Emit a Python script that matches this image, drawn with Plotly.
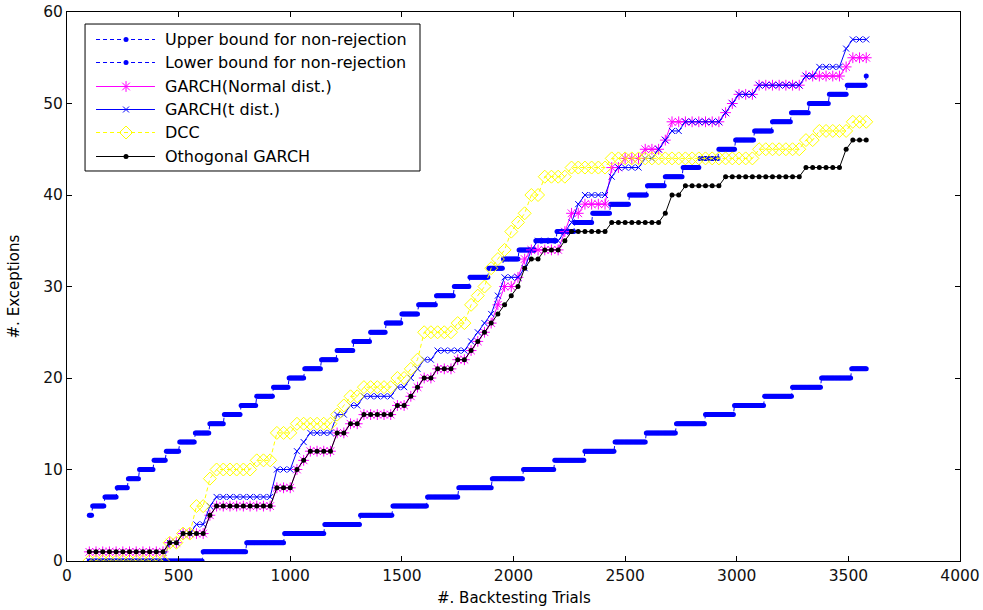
import numpy as np
import plotly.graph_objects as go

# Backtesting grid for the model series: one observation every 30 trials
trials = list(range(100, 3581, 30))

# Cumulative exception counts per model, one value per trial in `trials`
garch_normal = ([1] * 12 + [2] * 2 + [3] * 4 + [5] + [6] * 9 + [8] * 3 + [10] + [11] + [12] * 4
                + [14] * 2 + [15] * 2 + [16] * 5 + [17] * 2 + [18] + [19] + [20] * 2 + [21] * 3
                + [22] * 2 + [23, 24, 25, 26] + [28, 30, 30, 31, 33] + [34] * 5 + [36] + [38] * 2
                + [39] * 4 + [43] * 2 + [44] * 3 + [45] * 3 + [46] + [48] * 8 + [49, 50] + [51] * 3
                + [52] * 7 + [53] * 6 + [54] + [55] * 3)

garch_t = ([0] * 12 + [2] * 2 + [3] * 2 + [4] * 2 + [6] + [7] * 9 + [10] * 3 + [12, 13] + [14] * 4
           + [16] * 2 + [17] * 2 + [18] * 5 + [19] * 2 + [20, 21] + [22] * 2 + [23] * 5
           + [24, 25, 26, 27, 29] + [31] * 3 + [32, 34] + [35] * 4 + [36, 37, 39] + [40] * 4 + [42]
           + [43] * 4 + [44] * 2 + [45, 46] + [47] * 2 + [48] * 6 + [49, 50] + [51] * 3 + [52] * 7
           + [53] * 2 + [54] * 4 + [56] + [57] * 3)

dcc = ([0] * 12 + [2] * 2 + [3] * 2 + [6] * 2 + [9] + [10] * 6 + [11] * 3 + [14] * 3 + [15] * 6
       + [16, 17] + [18] * 2 + [19] * 5 + [20] * 2 + [21, 22] + [25] * 5 + [26] * 2
       + [28, 29, 30, 32, 33, 34, 36, 37, 38] + [40] * 2 + [42] * 4 + [43] * 6 + [44] * 22
       + [45] * 7 + [46] * 2 + [47] * 5 + [48] * 3)

ogarch = ([1] * 12 + [2] * 2 + [3] * 4 + [5] + [6] * 9 + [8] * 3 + [10] + [11] + [12] * 4
          + [14] * 2 + [15] * 2 + [16] * 5 + [17] * 2 + [18] + [19] + [20] * 2 + [21] * 3
          + [22] * 2 + [23, 24, 25, 26, 27, 28, 29, 30, 32] + [33] * 2 + [34] * 3 + [35]
          + [36] * 6 + [37] * 8 + [38] + [40] * 2 + [41] * 6 + [42] * 12 + [43] * 6 + [45]
          + [46] * 3)

# Non-rejection region: bounds are evaluated on every 5th trial.
bound_trials = np.arange(100, 3581, 5)
upper_start = 5
upper_jumps = [115, 168, 222, 275, 325, 390, 445, 505, 572, 638, 705, 778, 850, 921, 995,
               1062, 1137, 1208, 1283, 1357, 1429, 1500, 1574, 1653, 1731, 1802, 1888,
               1955, 2025, 2100, 2195, 2274, 2352, 2434, 2520, 2600, 2678, 2760, 2835,
               2916, 2995, 3077, 3160, 3242, 3325, 3412, 3492, 3578]
lower_start = 0
lower_jumps = [610, 801, 971, 1153, 1312, 1460, 1612, 1752, 1903, 2045, 2184, 2320, 2455,
               2595, 2728, 2856, 2988, 3121, 3250, 3380, 3513]

upper_bound = upper_start + np.searchsorted(upper_jumps, bound_trials, side="right")
lower_bound = lower_start + np.searchsorted(lower_jumps, bound_trials, side="right")

names = ["Upper bound for non-rejection", "Lower bound for non-rejection",
         "GARCH(Normal dist.)", "GARCH(t dist.)", "DCC", "Othogonal GARCH"]

BLUE, MAGENTA, YELLOW, BLACK = "#0000ff", "#ff00ff", "#ffff00", "#000000"
DASH = "4px,3px"
FONT = "DejaVu Sans"


def open_marker(symbol, size, color):
    return dict(symbol=symbol, size=size, color=color, line=dict(color=color, width=1))


styles = [
    dict(line=dict(color=BLUE, width=1, dash=DASH), marker=dict(symbol="circle", size=5, color=BLUE)),
    dict(line=dict(color=BLUE, width=1, dash=DASH), marker=dict(symbol="circle", size=5, color=BLUE)),
    dict(line=dict(color=MAGENTA, width=1), marker=open_marker("asterisk-open", 9, MAGENTA)),
    dict(line=dict(color=BLUE, width=1), marker=open_marker("x-thin-open", 6, BLUE)),
    dict(line=dict(color=YELLOW, width=1, dash=DASH), marker=open_marker("diamond-open", 10, YELLOW)),
    dict(line=dict(color=BLACK, width=1), marker=dict(symbol="circle", size=5, color=BLACK)),
]

series_x = [bound_trials, bound_trials, trials, trials, trials, trials]
series_y = [upper_bound, lower_bound, garch_normal, garch_t, dcc, ogarch]

fig = go.Figure()
for name, xs, ys, st in zip(names, series_x, series_y, styles):
    fig.add_trace(go.Scatter(x=xs, y=ys, name=name, mode="lines+markers",
                             line=st["line"], marker=st["marker"], showlegend=False,
                             hoverinfo="skip"))

# Boxed legend drawn on an overlay axis pair whose [0, 1] range spans the plot area
leg_x0, leg_x1, leg_y0, leg_y1 = 0.0202, 0.3953, 0.7104, 0.9781
row_y = [0.94991, 0.90801, 0.86430, 0.82240, 0.78051, 0.73679]
sample_x0, sample_mid, sample_x1, text_x = 0.0325, 0.0661, 0.0985, 0.1075

fig.add_shape(type="rect", xref="paper", yref="paper", x0=leg_x0, x1=leg_x1, y0=leg_y0, y1=leg_y1,
              line=dict(color="black", width=1), fillcolor="white", layer="below")

for name, ry, st in zip(names, row_y, styles):
    fig.add_trace(go.Scatter(x=[sample_x0, sample_x1], y=[ry, ry], mode="lines", line=st["line"],
                             xaxis="x2", yaxis="y2", showlegend=False, hoverinfo="skip"))
    fig.add_trace(go.Scatter(x=[sample_mid], y=[ry], mode="markers", marker=st["marker"],
                             xaxis="x2", yaxis="y2", showlegend=False, hoverinfo="skip"))
    fig.add_annotation(x=text_x, y=ry, xref="paper", yref="paper", text=name, showarrow=False,
                       xanchor="left", yanchor="middle",
                       font=dict(family=FONT, size=16, color="black"))

# Axis titles
fig.add_annotation(x=0.5, y=-0.0674, xref="paper", yref="paper", text="#. Backtesting Trials",
                   showarrow=False, xanchor="center", yanchor="middle",
                   font=dict(family=FONT, size=15, color="black"))
fig.add_annotation(x=-0.0594, y=0.5, xref="paper", yref="paper", text="#. Exceptions",
                   showarrow=False, textangle=-90, xanchor="center", yanchor="middle",
                   font=dict(family=FONT, size=15, color="black"))

axis_common = dict(showline=True, linecolor="black", linewidth=1, mirror="ticks", ticks="inside",
                   ticklen=5, tickcolor="black", showgrid=False, zeroline=False, automargin=False,
                   tickfont=dict(family=FONT, size=15.5, color="#111111"))

fig.update_layout(
    width=983, height=610,
    margin=dict(l=67, r=23, t=12, b=49),
    plot_bgcolor="white", paper_bgcolor="white",
    showlegend=False,
    font=dict(family=FONT, size=15, color="black"),
    xaxis=dict(range=[0, 4000], tickvals=list(range(0, 4001, 500)), **axis_common),
    yaxis=dict(range=[0, 60], tickvals=list(range(0, 61, 10)), **axis_common),
    xaxis2=dict(overlaying="x", range=[0, 1], visible=False, fixedrange=True),
    yaxis2=dict(overlaying="y", range=[0, 1], visible=False, fixedrange=True),
)

fig.write_html("out.html")
